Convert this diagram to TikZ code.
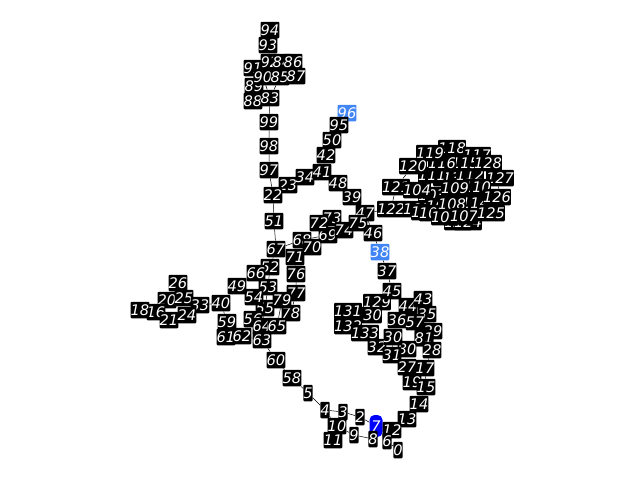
\documentclass[tikz,border=0pt]{standalone}
\usepackage{fontspec}
\setsansfont{DejaVu Sans}
\usetikzlibrary{backgrounds}
\definecolor{lightblue}{HTML}{4285F4}
\tikzset{
	num/.style={fill=black,text=white,rounded corners=1pt,font=\sffamily\itshape\fontsize{14.6}{14.6}\selectfont,inner xsep=0pt,inner ysep=0pt,minimum height=16.5pt,text height=10.8pt,text depth=0pt},
	numlight/.style={num,fill=lightblue},
	numblue/.style={num,fill=blue,rounded corners=5pt,minimum height=22pt,minimum width=13pt},
	link/.style={draw=black,line width=0.5pt}
}
\begin{document}
\begin{tikzpicture}[x=1pt,y=-1pt]
	\useasboundingbox (0,0) rectangle (640,480);

	% Top branch
	\node[num] (n94) at (270,30) {94};
	\node[num] (n93) at (268,45) {93};
	\node[num] (n92) at (270,62) {92};
	\node[num] (n84) at (282,62) {84};
	\node[num] (n86) at (293,62) {86};
	\node[num] (n91) at (253,68) {91};
	\node[num] (n89) at (254,86) {89};
	\node[num] (n88) at (253,101) {88};
	\node[num] (n90) at (263,77) {90};
	\node[num] (n85) at (280,77) {85};
	\node[num] (n87) at (296,76) {87};
	\node[num] (n83) at (270,98) {83};
	\node[num] (n99) at (269,122) {99};
	\node[num] (n98) at (269,146) {98};
	\node[num] (n97) at (269,170) {97};
	\node[num] (n51) at (274,221) {51};

	% Middle branch
	\node[numlight] (n96) at (347,113) {96};
	\node[num] (n95) at (339,125) {95};
	\node[num] (n50) at (332,140) {50};
	\node[num] (n42) at (326,155) {42};
	\node[num] (n23) at (288,185) {23};
	\node[num] (n22) at (273,195) {22};
	\node[num] (n34) at (305,177) {34};
	\node[num] (n41) at (322,172) {41};
	\node[num] (n48) at (338,183) {48};
	\node[num] (n39) at (352,197) {39};
	\node[num] (n47) at (365,213) {47};
	\node[num] (n46) at (373,233) {46};
	\node[num] (n71) at (295,257) {71};
	\node[num] (n68) at (302,240) {68};
	\node[num] (n69) at (328,235) {69};
	\node[num] (n73) at (332,218) {73};
	\node[num] (n72) at (319,223) {72};
	\node[num] (n74) at (344,230) {74};
	\node[num] (n75) at (358,223) {75};
	\node[num] (n70) at (312,247) {70};

	% Cluster on the right
	\node[num] (n113) at (447,178) {113};
	\node[num] (n111) at (432,175) {111};
	\node[num] (n112) at (470,175) {112};
	\node[num] (n118) at (452,148) {118};
	\node[num] (n117) at (477,155) {117};
	\node[num] (n115) at (465,163) {115};
	\node[num] (n116) at (442,163) {116};
	\node[num] (n119) at (430,153) {119};
	\node[num] (n120) at (413,166) {120};
	\node[num] (n128) at (488,163) {128};
	\node[num] (n127) at (500,178) {127};
	\node[num] (n110) at (477,187) {110};
	\node[num] (n121) at (396,187) {121};
	\node[num] (n103) at (432,195) {103};
	\node[num] (n104) at (417,190) {104};
	\node[num] (n109) at (455,188) {109};
	\node[num] (n114) at (475,203) {114};
	\node[num] (n126) at (497,197) {126};
	\node[num] (n122) at (391,209) {122};
	\node[num] (n105) at (417,209) {105};
	\node[num] (n106) at (425,212) {106};
	\node[num] (n102) at (440,206) {102};
	\node[num] (n100) at (433,213) {100};
	\node[num] (n108) at (452,204) {108};
	\node[num] (n123) at (458,222) {123};
	\node[num] (n124) at (468,222) {124};
	\node[num] (n101) at (445,217) {101};
	\node[num] (n107) at (464,216) {107};
	\node[num] (n125) at (491,213) {125};

	% Left part
	\node[num] (n26) at (178,283) {26};
	\node[num] (n20) at (167,300) {20};
	\node[num] (n25) at (184,298) {25};
	\node[num] (n33) at (200,305) {33};
	\node[num] (n16) at (156,312) {16};
	\node[num] (n18) at (140,310) {18};
	\node[num] (n21) at (169,320) {21};
	\node[num] (n24) at (187,315) {24};
	\node[num] (n40) at (221,303) {40};
	\node[num] (n49) at (237,286) {49};
	\node[num] (n59) at (227,322) {59};
	\node[num] (n61) at (226,337) {61};
	\node[num] (n62) at (242,336) {62};

	% Centre column
	\node[num] (n67) at (276,249) {67};
	\node[num] (n52) at (270,267) {52};
	\node[num] (n66) at (256,273) {66};
	\node[num] (n76) at (296,274) {76};
	\node[num] (n53) at (268,287) {53};
	\node[num] (n77) at (296,293) {77};
	\node[num] (n55) at (265,308) {55};
	\node[num] (n54) at (254,297) {54};
	\node[num] (n78) at (291,313) {78};
	\node[num] (n79) at (282,300) {79};
	\node[num] (n56) at (253,319) {56};
	\node[num] (n64) at (262,326) {64};
	\node[num] (n65) at (277,326) {65};
	\node[num] (n63) at (262,340) {63};
	\node[num] (n60) at (276,360) {60};
	\node[num] (n58) at (292,378) {58};
	\node[num] (n5) at (308,393) {5};

	% Loop on the right
	\node[numlight] (n38) at (380,252) {38};
	\node[num] (n37) at (387,271) {37};
	\node[num] (n129) at (377,302) {129};
	\node[num] (n45) at (392,291) {45};
	\node[num] (n44) at (408,306) {44};
	\node[num] (n35) at (427,314) {35};
	\node[num] (n43) at (423,299) {43};
	\node[num] (n130) at (368,315) {130};
	\node[num] (n131) at (348,311) {131};
	\node[num] (n132) at (348,326) {132};
	\node[num] (n133) at (365,333) {133};
	\node[num] (n29) at (433,331) {29};
	\node[num] (n36) at (397,320) {36};
	\node[num] (n57) at (415,322) {57};
	\node[num] (n82) at (424,338) {82};
	\node[num] (n81) at (424,338) {81};
	\node[num] (n32) at (377,347) {32};
	\node[num] (n80) at (407,349) {80};
	\node[num] (n31) at (392,355) {31};
	\node[num] (n30) at (393,337) {30};
	\node[num] (n28) at (432,350) {28};
	\node[num] (n27) at (407,367) {27};
	\node[num] (n17) at (425,368) {17};
	\node[num] (n19) at (412,382) {19};
	\node[num] (n15) at (426,387) {15};
	\node[num] (n14) at (419,404) {14};

	% Bottom part
	\node[num] (n4) at (325,410) {4};
	\node[num] (n3) at (343,412) {3};
	\node[num] (n2) at (360,417) {2};
	\node[num] (n10) at (337,426) {10};
	\node[num] (n9) at (354,435) {9};
	\node[num] (n11) at (333,440) {11};
	\node[numblue] (n7) at (376,426) {7};
	\node[num] (n8) at (373,439) {8};
	\node[num] (n13) at (407,419) {13};
	\node[num] (n12) at (392,430) {12};
	\node[num] (n6) at (387,441) {6};
	\node[num] (n0) at (398,450) {0};

	% Draw links
	\begin{scope}[on background layer]
		\draw[link] (n94) -- (n93) -- (n92) -- (n90) -- (n83);
		\draw[link] (n91) -- (n89) -- (n88) -- (n83);
		\draw[link] (n84) -- (n85) -- (n83);
		\draw[link] (n86) -- (n87) -- (n85);
		\draw[link] (n83) -- (n99) -- (n98) -- (n97) -- (n22) -- (n51) -- (n67) -- (n52) -- (n53) -- (n55) -- (n64) -- (n63) -- (n60) -- (n58) -- (n5) -- (n4) -- (n3) -- (n2) -- (n7) -- (n8) -- (n9) -- (n10) -- (n4);
		\draw[link] (n10) -- (n11);
		\draw[link] (n7) -- (n12) -- (n13) -- (n14) -- (n15) -- (n17) -- (n28) -- (n29) -- (n35) -- (n43) -- (n44) -- (n45) -- (n37) -- (n38) -- (n46) -- (n47) -- (n39) -- (n48) -- (n41) -- (n34) -- (n23) -- (n22);
		\draw[link] (n12) -- (n6) -- (n0);
		\draw[link] (n15) -- (n19) -- (n27) -- (n31) -- (n32) -- (n133) -- (n132) -- (n131) -- (n130) -- (n129) -- (n45);
		\draw[link] (n41) -- (n42) -- (n50) -- (n95) -- (n96);
		\draw[link] (n67) -- (n68) -- (n69) -- (n72) -- (n73) -- (n74) -- (n75) -- (n47);
		\draw[link] (n68) -- (n70) -- (n71) -- (n76) -- (n77) -- (n78) -- (n79) -- (n65) -- (n64);
		\draw[link] (n53) -- (n66) -- (n49) -- (n40) -- (n33) -- (n25) -- (n26);
		\draw[link] (n53) -- (n54) -- (n49);
		\draw[link] (n25) -- (n20) -- (n16) -- (n18);
		\draw[link] (n16) -- (n21) -- (n24) -- (n33);
		\draw[link] (n40) -- (n59) -- (n61) -- (n62) -- (n63);
		\draw[link] (n55) -- (n56) -- (n62);
		\draw[link] (n31) -- (n30) -- (n36) -- (n57) -- (n81) -- (n82) -- (n28);
		\draw[link] (n80) -- (n81);
		\draw[link] (n47) -- (n122) -- (n121) -- (n120) -- (n119) -- (n118) -- (n117) -- (n128) -- (n127) -- (n126) -- (n125) -- (n124) -- (n123);
		\draw[link] (n121) -- (n104) -- (n103) -- (n105) -- (n106) -- (n102) -- (n100) -- (n101) -- (n107) -- (n108) -- (n109) -- (n110) -- (n112) -- (n115) -- (n116) -- (n111) -- (n113) -- (n114);
	\end{scope}
\end{tikzpicture}
\end{document}
